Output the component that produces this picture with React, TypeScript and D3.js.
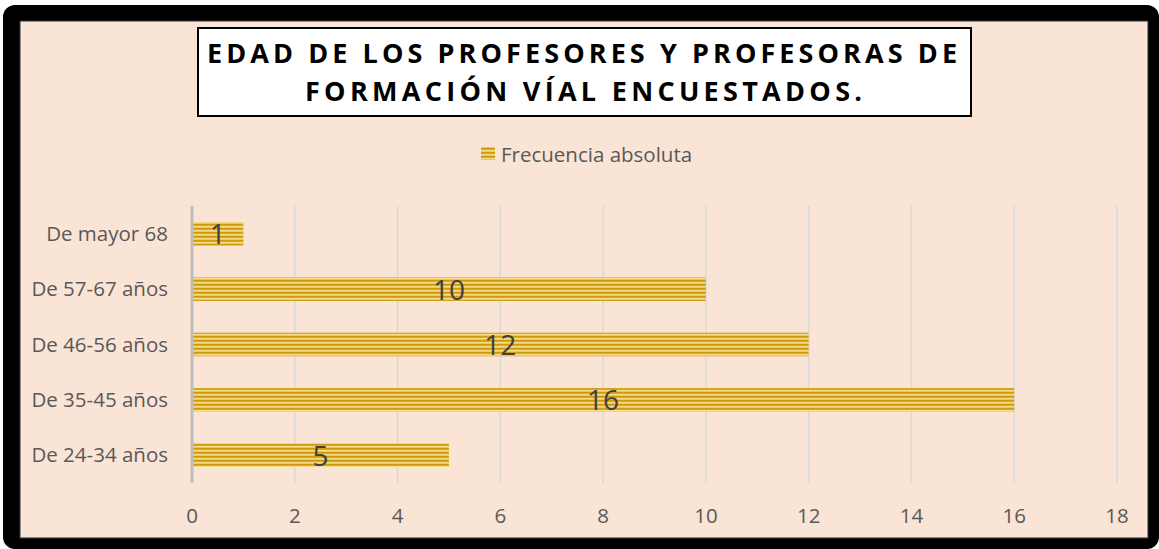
import React from "react";
import * as d3 from "d3";

const categories = ["De mayor 68", "De 57-67 años", "De 46-56 años", "De 35-45 años", "De 24-34 años"];
const values = [1, 10, 12, 16, 5];
const xTicks = [0, 2, 4, 6, 8, 10, 12, 14, 16, 18];
const titleLines = ["EDAD DE LOS PROFESORES Y PROFESORAS DE", "FORMACIÓN VÍAL ENCUESTADOS."];
const seriesName = "Frecuencia absoluta";

const W = 1159;
const H = 549;
const plot = { left: 192, right: 1117, top: 206, bottom: 483 };
const FONT = "'Open Sans', 'Noto Sans', sans-serif";
const LABEL_SIZE = 20.5;

export default function App() {
  const x = d3.scaleLinear().domain([0, 18]).range([plot.left, plot.right]);
  const y = d3
    .scaleBand<string>()
    .domain(categories)
    .range([plot.top, plot.bottom])
    .paddingInner(0.575)
    .paddingOuter(0.29);
  const bh = y.bandwidth();

  return (
    <svg
      width={W}
      height={H}
      style={{ position: "absolute", left: 0, top: 0, display: "block" }}
    >
      <defs>
        <pattern id="stripes" width="8" height="4" patternUnits="userSpaceOnUse">
          <rect x="0" y="0" width="8" height="4" fill="#e6b526" />
          <rect x="0" y="0" width="8" height="1.5" fill="#cf9b0c" />
          <rect x="0" y="2" width="8" height="1.5" fill="#f6dc86" />
        </pattern>
      </defs>
      <rect x={0} y={0} width={W} height={H} fill="#ffffff" />
      <rect x={3} y={5} width={W - 3} height={H - 5} rx={12} fill="#000000" />
      <rect x={20} y={21} width={1128} height={517} fill="#fae4d6" stroke="#333" strokeWidth={1} />

      {/* title */}
      <rect x={198} y={28} width={773} height={88} fill="#ffffff" stroke="#000" strokeWidth={2} />
      {titleLines.map((t, i) => (
        <text
          key={i}
          x={i === 0 ? 207 : 305}
          y={i === 0 ? 63 : 101}
          fontFamily={FONT}
          fontWeight={700}
          fontSize={27}
          fill="#000"
          textLength={i === 0 ? 750 : 557}
          lengthAdjust="spacing"
        >
          {t}
        </text>
      ))}

      {/* legend */}
      <rect x={481} y={147} width={14} height={13} fill="url(#stripes)" />
      <text x={501} y={162} fontFamily={FONT} fontSize={LABEL_SIZE} fill="#595959">
        {seriesName}
      </text>

      {/* gridlines */}
      {xTicks.slice(1).map((t) => (
        <line
          key={t}
          x1={x(t)}
          x2={x(t)}
          y1={plot.top}
          y2={plot.bottom}
          stroke="#d9d9d9"
          strokeWidth={1.5}
        />
      ))}

      {/* bars */}
      {categories.map((c, i) => (
        <rect
          key={c}
          x={x(0)}
          y={y(c)!}
          width={x(values[i]) - x(0)}
          height={bh}
          fill="url(#stripes)"
        />
      ))}

      {/* axis line */}
      <line x1={x(0)} x2={x(0)} y1={plot.top} y2={plot.bottom} stroke="#bfbfbf" strokeWidth={3} />

      {/* value labels */}
      {categories.map((c, i) => (
        <text
          key={c}
          x={(x(0) + x(values[i])) / 2}
          y={y(c)! + bh / 2 + 10.5}
          textAnchor="middle"
          fontFamily={FONT}
          fontSize={28}
          fill="#404040"
        >
          {values[i]}
        </text>
      ))}

      {/* category labels */}
      {categories.map((c) => (
        <text
          key={c}
          x={168}
          y={y(c)! + bh / 2 + 7}
          textAnchor="end"
          fontFamily={FONT}
          fontSize={LABEL_SIZE}
          fill="#595959"
        >
          {c}
        </text>
      ))}

      {/* tick labels */}
      {xTicks.map((t) => (
        <text
          key={t}
          x={x(t)}
          y={523}
          textAnchor="middle"
          fontFamily={FONT}
          fontSize={LABEL_SIZE}
          fill="#595959"
        >
          {t}
        </text>
      ))}
    </svg>
  );
}
